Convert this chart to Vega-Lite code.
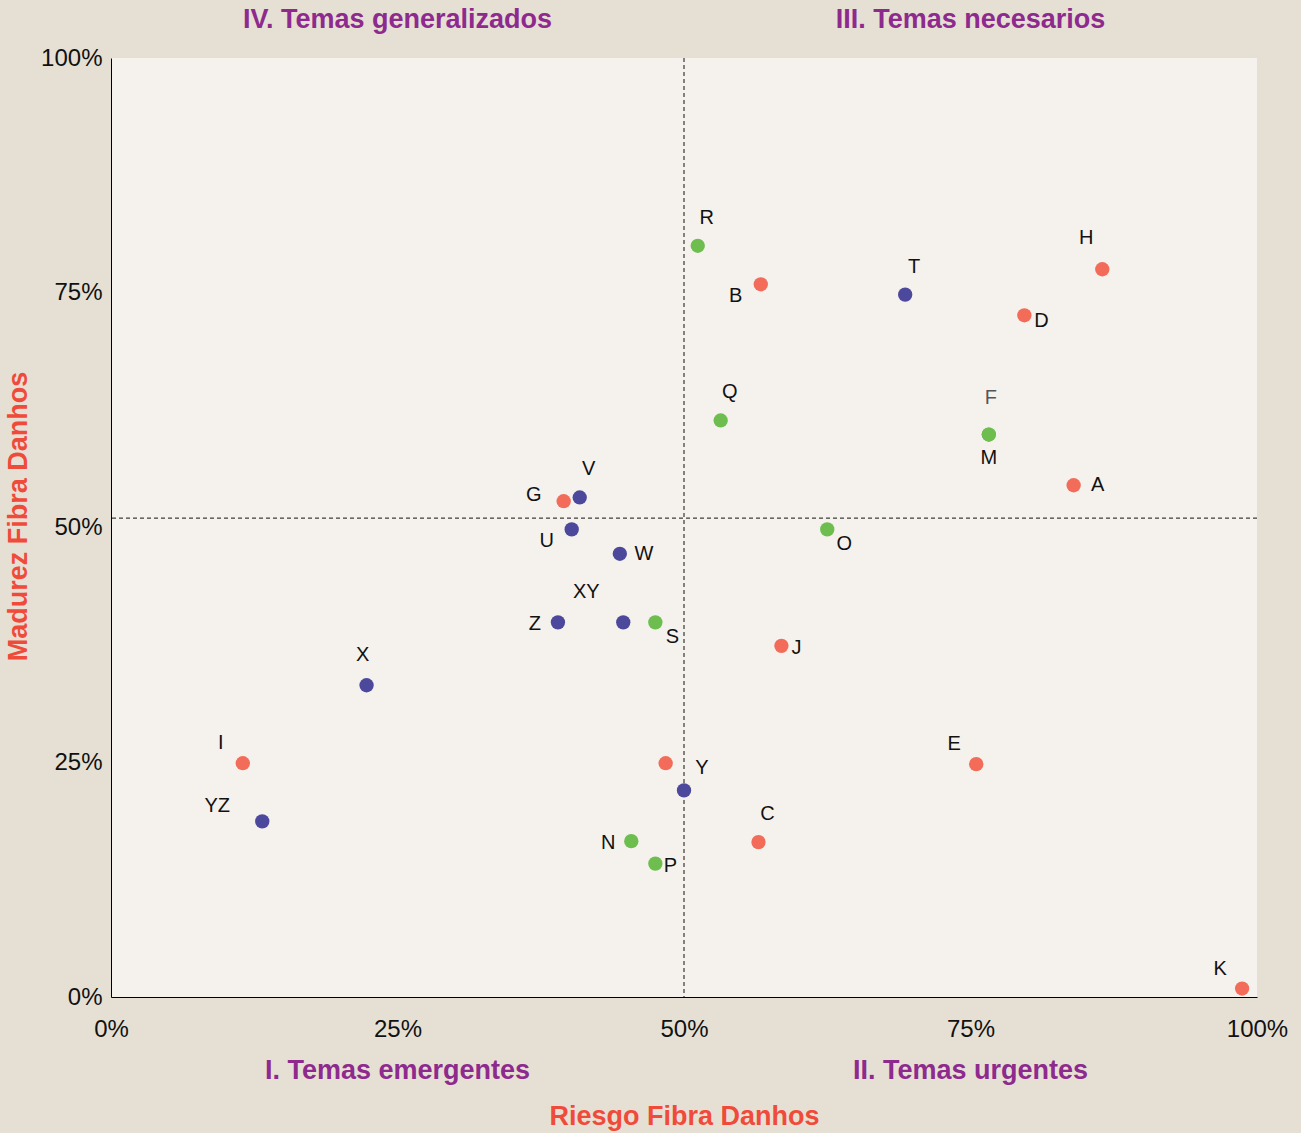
{
  "$schema": "https://vega.github.io/schema/vega-lite/v6.json",
  "width": 1146,
  "height": 939,
  "autosize": {"type": "none"},
  "padding": {"left": 111, "top": 58, "right": 44, "bottom": 136},
  "background": "#E6E0D4",
  "config": {
    "view": {"fill": "#F5F2ED", "stroke": null},
    "font": "Liberation Sans",
    "axis": {"grid": false, "ticks": false}
  },
  "datasets": {
    "temas": [
      {"tema": "R", "riesgo": 51.2, "madurez": 80.0, "categoria": "2"},
      {"tema": "B", "riesgo": 56.7, "madurez": 75.9, "categoria": "1"},
      {"tema": "T", "riesgo": 69.3, "madurez": 74.8, "categoria": "3"},
      {"tema": "H", "riesgo": 86.5, "madurez": 77.5, "categoria": "1"},
      {"tema": "D", "riesgo": 79.7, "madurez": 72.6, "categoria": "1"},
      {"tema": "Q", "riesgo": 53.2, "madurez": 61.4, "categoria": "2"},
      {"tema": "F", "riesgo": 76.6, "madurez": 59.9, "categoria": "2"},
      {"tema": "M", "riesgo": 76.6, "madurez": 59.9, "categoria": "2"},
      {"tema": "A", "riesgo": 84.0, "madurez": 54.5, "categoria": "1"},
      {"tema": "G", "riesgo": 39.5, "madurez": 52.8, "categoria": "1"},
      {"tema": "V", "riesgo": 40.9, "madurez": 53.2, "categoria": "3"},
      {"tema": "U", "riesgo": 40.2, "madurez": 49.8, "categoria": "3"},
      {"tema": "O", "riesgo": 62.5, "madurez": 49.8, "categoria": "2"},
      {"tema": "W", "riesgo": 44.4, "madurez": 47.2, "categoria": "3"},
      {"tema": "Z", "riesgo": 39.0, "madurez": 39.9, "categoria": "3"},
      {"tema": "XY", "riesgo": 44.7, "madurez": 39.9, "categoria": "3"},
      {"tema": "S", "riesgo": 47.5, "madurez": 39.9, "categoria": "2"},
      {"tema": "J", "riesgo": 58.5, "madurez": 37.4, "categoria": "1"},
      {"tema": "X", "riesgo": 22.3, "madurez": 33.2, "categoria": "3"},
      {"tema": "I", "riesgo": 11.5, "madurez": 24.9, "categoria": "1"},
      {"tema": "E", "riesgo": 75.5, "madurez": 24.8, "categoria": "1"},
      {"tema": "", "riesgo": 48.4, "madurez": 24.9, "categoria": "1"},
      {"tema": "Y", "riesgo": 50.0, "madurez": 22.0, "categoria": "3"},
      {"tema": "YZ", "riesgo": 13.2, "madurez": 18.7, "categoria": "3"},
      {"tema": "N", "riesgo": 45.4, "madurez": 16.6, "categoria": "2"},
      {"tema": "C", "riesgo": 56.5, "madurez": 16.5, "categoria": "1"},
      {"tema": "P", "riesgo": 47.5, "madurez": 14.2, "categoria": "2"},
      {"tema": "K", "riesgo": 98.7, "madurez": 0.9, "categoria": "1"}
    ],
    "cuadrantes": [
      {"cuadrante": "IV. Temas generalizados", "riesgo": 25, "madurez": 103.2},
      {"cuadrante": "III. Temas necesarios", "riesgo": 75, "madurez": 103.2},
      {"cuadrante": "I. Temas emergentes", "riesgo": 25, "madurez": -8.7},
      {"cuadrante": "II. Temas urgentes", "riesgo": 75, "madurez": -8.7}
    ],
    "division_riesgo": [{"riesgo": 50}],
    "division_madurez": [{"madurez": 51}]
  },
  "layer": [
    {
      "data": {"name": "division_riesgo"},
      "mark": {"type": "rule", "color": "#111111", "strokeWidth": 1, "strokeDash": [4, 3]},
      "encoding": {
        "x": {"field": "riesgo", "type": "quantitative", "scale": {"domain": [0, 100], "nice": false}}
      }
    },
    {
      "data": {"name": "division_madurez"},
      "mark": {"type": "rule", "color": "#111111", "strokeWidth": 1, "strokeDash": [4, 3]},
      "encoding": {
        "y": {"field": "madurez", "type": "quantitative", "scale": {"domain": [0, 100], "nice": false}}
      }
    },
    {
      "data": {"name": "temas"},
      "encoding": {
        "x": {
          "field": "riesgo", "type": "quantitative",
          "scale": {"domain": [0, 100], "nice": false},
          "axis": {
            "values": [0, 25, 50, 75, 100],
            "labelExpr": "datum.value + '%'",
            "domainColor": "#000000", "domainWidth": 1,
            "labelFontSize": 24, "labelColor": "#111111", "labelPadding": 20, "labelFlush": false,
            "title": "Riesgo Fibra Danhos",
            "titleFontSize": 27, "titleFontWeight": "bold", "titleColor": "#F04B3A", "titlePadding": 62
          }
        },
        "y": {
          "field": "madurez", "type": "quantitative",
          "scale": {"domain": [0, 100], "nice": false},
          "axis": {
            "values": [0, 25, 50, 75, 100],
            "labelExpr": "datum.value + '%'",
            "domainColor": "#000000", "domainWidth": 1,
            "labelFontSize": 24, "labelColor": "#111111", "labelPadding": 9, "labelFlush": false,
            "title": "Madurez Fibra Danhos",
            "titleFontSize": 27, "titleFontWeight": "bold", "titleColor": "#F04B3A", "titlePadding": 8,
            "titleY": 458
          }
        }
      },
      "layer": [
        {
          "mark": {"type": "circle", "size": 205, "opacity": 1},
          "encoding": {
            "color": {
              "field": "categoria", "type": "nominal",
              "scale": {"domain": ["1", "2", "3"], "range": ["#F26C59", "#6DBE4F", "#4C489C"]},
              "legend": null
            }
          }
        },
        {"transform": [{"filter": {"field": "tema", "oneOf": ["R", "T", "V", "C", "Q"]}}],
         "mark": {"type": "text", "dx": 9, "dy": -28, "fontSize": 20, "color": "#111111"},
         "encoding": {"text": {"field": "tema"}}},
        {"transform": [{"filter": {"field": "tema", "oneOf": ["X"]}}],
         "mark": {"type": "text", "dx": -4, "dy": -30, "fontSize": 20, "color": "#111111"},
         "encoding": {"text": {"field": "tema"}}},
        {"transform": [{"filter": {"field": "tema", "oneOf": ["F"]}}],
         "mark": {"type": "text", "dx": 2, "dy": -37, "fontSize": 20, "color": "#555555"},
         "encoding": {"text": {"field": "tema"}}},
        {"transform": [{"filter": {"field": "tema", "oneOf": ["M"]}}],
         "mark": {"type": "text", "dx": 0, "dy": 23, "fontSize": 20, "color": "#111111"},
         "encoding": {"text": {"field": "tema"}}},
        {"transform": [{"filter": {"field": "tema", "oneOf": ["I", "E", "K"]}}],
         "mark": {"type": "text", "dx": -22, "dy": -20, "fontSize": 20, "color": "#111111"},
         "encoding": {"text": {"field": "tema"}}},
        {"transform": [{"filter": {"field": "tema", "oneOf": ["H"]}}],
         "mark": {"type": "text", "dx": -16, "dy": -31, "fontSize": 20, "color": "#111111"},
         "encoding": {"text": {"field": "tema"}}},
        {"transform": [{"filter": {"field": "tema", "oneOf": ["XY"]}}],
         "mark": {"type": "text", "dx": -37, "dy": -30, "fontSize": 20, "color": "#111111"},
         "encoding": {"text": {"field": "tema"}}},
        {"transform": [{"filter": {"field": "tema", "oneOf": ["YZ"]}}],
         "mark": {"type": "text", "dx": -45, "dy": -15, "fontSize": 20, "color": "#111111"},
         "encoding": {"text": {"field": "tema"}}},
        {"transform": [{"filter": {"field": "tema", "oneOf": ["Z", "N"]}}],
         "mark": {"type": "text", "dx": -23, "dy": 2, "fontSize": 20, "color": "#111111"},
         "encoding": {"text": {"field": "tema"}}},
        {"transform": [{"filter": {"field": "tema", "oneOf": ["G"]}}],
         "mark": {"type": "text", "dx": -30, "dy": -6, "fontSize": 20, "color": "#111111"},
         "encoding": {"text": {"field": "tema"}}},
        {"transform": [{"filter": {"field": "tema", "oneOf": ["B", "U"]}}],
         "mark": {"type": "text", "dx": -25, "dy": 12, "fontSize": 20, "color": "#111111"},
         "encoding": {"text": {"field": "tema"}}},
        {"transform": [{"filter": {"field": "tema", "oneOf": ["A", "W"]}}],
         "mark": {"type": "text", "dx": 24, "dy": 0, "fontSize": 20, "color": "#111111"},
         "encoding": {"text": {"field": "tema"}}},
        {"transform": [{"filter": {"field": "tema", "oneOf": ["J", "P"]}}],
         "mark": {"type": "text", "dx": 15, "dy": 2, "fontSize": 20, "color": "#111111"},
         "encoding": {"text": {"field": "tema"}}},
        {"transform": [{"filter": {"field": "tema", "oneOf": ["D"]}}],
         "mark": {"type": "text", "dx": 17, "dy": 6, "fontSize": 20, "color": "#111111"},
         "encoding": {"text": {"field": "tema"}}},
        {"transform": [{"filter": {"field": "tema", "oneOf": ["O", "S"]}}],
         "mark": {"type": "text", "dx": 17, "dy": 15, "fontSize": 20, "color": "#111111"},
         "encoding": {"text": {"field": "tema"}}},
        {"transform": [{"filter": {"field": "tema", "oneOf": ["Y"]}}],
         "mark": {"type": "text", "dx": 18, "dy": -22, "fontSize": 20, "color": "#111111"},
         "encoding": {"text": {"field": "tema"}}}
      ]
    },
    {
      "data": {"name": "cuadrantes"},
      "mark": {"type": "text", "fontSize": 27, "fontWeight": "bold", "color": "#8E2A8E", "baseline": "alphabetic", "align": "center"},
      "encoding": {
        "x": {"field": "riesgo", "type": "quantitative", "scale": {"domain": [0, 100], "nice": false}},
        "y": {"field": "madurez", "type": "quantitative", "scale": {"domain": [0, 100], "nice": false}},
        "text": {"field": "cuadrante"}
      }
    }
  ]
}
